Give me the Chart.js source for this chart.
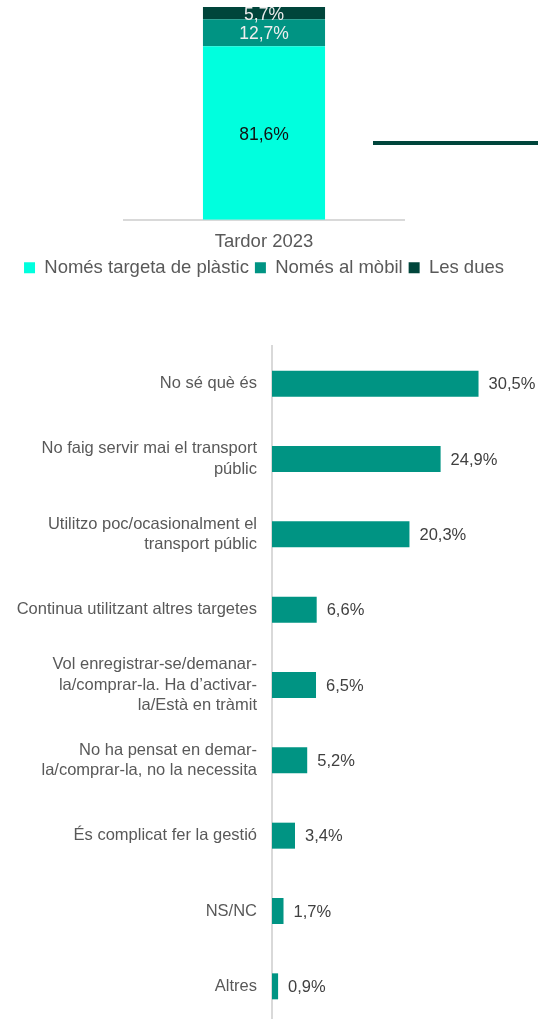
<!DOCTYPE html>
<html lang="ca">
<head>
  <meta charset="UTF-8">
  <title>Targeta T-mobilitat</title>
  <script src="https://cdn.jsdelivr.net/npm/chart.js"></script>
  <style>
    * {
      margin: 0;
      padding: 0;
      box-sizing: border-box;
    }
    body {
      width: 538px;
      height: 1019px;
      overflow: hidden;
      background: #ffffff;
      font-family: "Liberation Sans", Arial, sans-serif;
    }
    canvas {
      position: absolute;
      left: 0;
    }
    #supportChart { top: 0; }
    #reasonsChart { top: 330px; }
  </style>
</head>
<body>
  <canvas id="supportChart" width="538" height="287"></canvas>
  <canvas id="reasonsChart" width="538" height="694"></canvas>

  <script>
    // stacked column: support type
    const periods = ['Tardor 2023'];
    const seriesNames = ['Només targeta de plàstic', 'Només al mòbil', 'Les dues'];
    const plasticOnly = [81.6];
    const mobileOnly = [12.7];
    const bothSupports = [5.7];

    // horizontal bars: reasons
    const reasons = [
      ['No sé què és'],
      ['No faig servir mai el transport', 'públic'],
      ['Utilitzo poc/ocasionalment el', 'transport públic'],
      ['Continua utilitzant altres targetes'],
      ['Vol enregistrar-se/demanar-', 'la/comprar-la. Ha d’activar-', 'la/Està en tràmit'],
      ['No ha pensat en demar-', 'la/comprar-la, no la necessita'],
      ['És complicat fer la gestió'],
      ['NS/NC'],
      ['Altres']
    ];
    const reasonValues = [30.5, 24.9, 20.3, 6.6, 6.5, 5.2, 3.4, 1.7, 0.9];

    const FONT = '"Liberation Sans", Arial, sans-serif';
    const CYAN = '#00ffde';
    const TEAL = '#009483';
    const DARK = '#00453b';

    function pct(v) {
      return v.toFixed(1).replace('.', ',') + '%';
    }

    // value labels in the middle of each stacked segment
    const stackLabels = {
      id: 'stackLabels',
      afterDatasetsDraw(chart) {
        const ctx = chart.ctx;
        const colors = ['#111111', '#eeeeee', '#eeeeee'];
        ctx.save();
        ctx.font = '17.5px ' + FONT;
        ctx.textAlign = 'center';
        ctx.textBaseline = 'middle';
        chart.data.datasets.forEach((ds, i) => {
          chart.getDatasetMeta(i).data.forEach((bar, j) => {
            ctx.fillStyle = colors[i];
            ctx.fillText(pct(ds.data[j]), bar.x, (bar.y + bar.base) / 2 + 2);
          });
        });
        // separator stroke running off to the right
        ctx.strokeStyle = DARK;
        ctx.lineWidth = 4;
        ctx.beginPath();
        const yMid = chart.chartArea.top + 136;
        ctx.moveTo(chart.chartArea.right - 31, yMid);
        ctx.lineTo(chart.width, yMid);
        ctx.stroke();
        ctx.restore();
      }
    };

    // value labels after the end of each horizontal bar
    const endLabels = {
      id: 'endLabels',
      afterDatasetsDraw(chart) {
        const ctx = chart.ctx;
        ctx.save();
        ctx.font = '16.5px ' + FONT;
        ctx.fillStyle = '#404040';
        ctx.textAlign = 'left';
        ctx.textBaseline = 'middle';
        const ds = chart.data.datasets[0];
        chart.getDatasetMeta(0).data.forEach((bar, j) => {
          ctx.fillText(pct(ds.data[j]), bar.x + 10, bar.y + 1);
        });
        ctx.restore();
      }
    };

    // empty side axes just reserve room on both sides of the column
    function spacer(width) {
      return {
        display: true,
        grid: { display: false, drawTicks: false },
        border: { display: false },
        ticks: { display: false },
        afterFit(scale) { scale.width = width; }
      };
    }

    new Chart(document.getElementById('supportChart'), {
      type: 'bar',
      data: {
        labels: periods,
        datasets: [
          { label: seriesNames[0], data: plasticOnly, backgroundColor: CYAN },
          { label: seriesNames[1], data: mobileOnly, backgroundColor: TEAL },
          { label: seriesNames[2], data: bothSupports, backgroundColor: DARK }
        ]
      },
      options: {
        responsive: false,
        animation: false,
        events: [],
        layout: { padding: { left: 0, right: 10, top: 7, bottom: 0 } },
        datasets: { bar: { barPercentage: 0.436, categoryPercentage: 1 } },
        scales: {
          x: {
            stacked: true,
            // keep the legend tucked close under the category label
            afterFit(scale) { scale.height = 32.75; },
            grid: { display: false, drawTicks: false },
            border: { color: '#d9d9d9', width: 2 },
            ticks: {
              color: '#595959',
              padding: 11,
              font: { family: FONT, size: 18.5, lineHeight: 1.2 }
            }
          },
          y: Object.assign(spacer(124), { stacked: true, min: 0, max: 100 }),
          yRight: Object.assign(spacer(124), { type: 'linear', position: 'right' })
        },
        plugins: {
          tooltip: { enabled: false },
          legend: {
            position: 'bottom',
            labels: {
              boxWidth: 11,
              boxHeight: 11,
              padding: 6,
              color: '#595959',
              font: { family: FONT, size: 18.5 }
            }
          }
        }
      },
      plugins: [stackLabels]
    });

    new Chart(document.getElementById('reasonsChart'), {
      type: 'bar',
      data: {
        labels: reasons,
        datasets: [{ data: reasonValues, backgroundColor: TEAL }]
      },
      options: {
        indexAxis: 'y',
        responsive: false,
        animation: false,
        events: [],
        layout: { padding: { left: 0, right: 29, top: 16, bottom: 0 } },
        datasets: { bar: { barPercentage: 0.345, categoryPercentage: 1 } },
        scales: {
          x: { display: false, min: 0, max: 35 },
          y: {
            afterFit(scale) {
              scale.width = 272;
              scale.paddingTop = 0;
              scale.paddingBottom = 0;
            },
            grid: { display: false, drawTicks: false },
            border: { color: '#d9d9d9', width: 2 },
            ticks: {
              color: '#595959',
              padding: 15,
              font: { family: FONT, size: 16.5, lineHeight: 1.25 }
            }
          }
        },
        plugins: {
          legend: { display: false },
          tooltip: { enabled: false }
        }
      },
      plugins: [endLabels]
    });
  </script>
</body>
</html>
